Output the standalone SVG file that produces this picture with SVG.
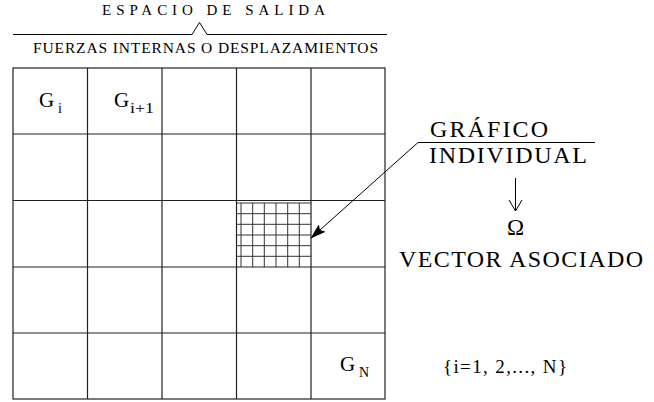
<svg xmlns="http://www.w3.org/2000/svg" width="654" height="402" viewBox="0 0 654 402">
<defs>
<style>
.t{font-family:"Liberation Serif","Times New Roman",serif;fill:#000}
.g{stroke:#222;stroke-width:1.2;fill:none}
.f{stroke:#333;stroke-width:1;fill:none}
.ln{stroke:#000;stroke-width:1;fill:none}
</style>
<marker id="ah" markerWidth="16" markerHeight="10" refX="15" refY="5" orient="auto" markerUnits="userSpaceOnUse">
<path d="M0,0 L16,5 L0,10 L3,5 Z" fill="#000"/>
</marker>
</defs>
<rect width="654" height="402" fill="#fff"/>
<g id="header">
<text class="t" x="102" y="15" font-size="15" textLength="223" lengthAdjust="spacing">ESPACIO DE SALIDA</text>
<path class="ln" d="M13,34.5 H192 L199.5,22.5 L207,34.5 H387"/>
<text class="t" x="33" y="52.5" font-size="15.5" textLength="345" lengthAdjust="spacing">FUERZAS INTERNAS O DESPLAZAMIENTOS</text>
</g>
<g id="grid">
<rect class="g" x="13" y="68" width="372" height="331"/>
<path class="g" d="M87.5,68 V399 M162,68 V399 M236.5,68 V399 M311,68 V399 M13,134 H385 M13,200.5 H385 M13,267 H385 M13,333 H385"/>
</g>
<g id="fine-grid">
<path class="f" d="M241,203 V267 M252.7,203 V267 M264.3,203 V267 M276,203 V267 M287.7,203 V267 M299.3,203 V267 M237,203 H311 M237,213.7 H311 M237,224.3 H311 M237,235 H311 M237,245.7 H311 M237,256.3 H311"/>
</g>
<g id="labels">
<text class="t" x="39" y="107" font-size="21">G</text>
<text class="t" x="58" y="113" font-size="14">i</text>
<text class="t" x="114" y="107" font-size="21">G</text>
<text class="t" x="130" y="113" font-size="14" textLength="24" lengthAdjust="spacingAndGlyphs">i+1</text>
<text class="t" x="340" y="371" font-size="21">G</text>
<text class="t" x="359" y="377" font-size="14">N</text>
<text class="t" x="443" y="373" font-size="19" textLength="124" lengthAdjust="spacing">{i=1, 2,..., N}</text>
</g>
<g id="individual">
<text class="t" x="430" y="136.5" font-size="24" textLength="118" lengthAdjust="spacing">GRÁFICO</text>
<text class="t" x="429" y="163" font-size="24" textLength="158" lengthAdjust="spacing">INDIVIDUAL</text>
<text class="t" x="515.5" y="235" font-size="23" text-anchor="middle">Ω</text>
<text class="t" x="399" y="267" font-size="24" textLength="244" lengthAdjust="spacing">VECTOR ASOCIADO</text>
</g>
<g id="connectors">
<path class="ln" d="M595,142.5 H418 L311,238" marker-end="url(#ah)"/>
<path class="ln" d="M515.5,178 V211 M509,200 L515.5,211 L522,200"/>
</g>
</svg>
